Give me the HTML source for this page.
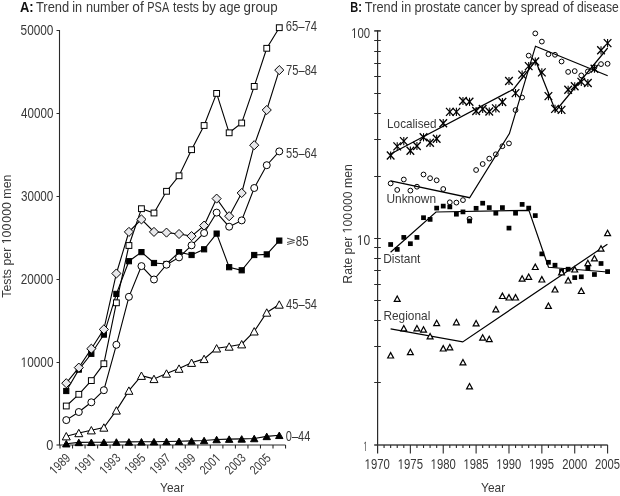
<!DOCTYPE html><html><head><meta charset="utf-8"><style>html,body{margin:0;padding:0;background:#fff;}svg{display:block;will-change:transform;}text{font-family:"Liberation Sans",sans-serif;fill:#383838;}.one{fill-opacity:0;}</style></head><body>
<svg width="620" height="496" viewBox="0 0 620 496">
<rect width="620" height="496" fill="#fff"/>
<text x="19.97" y="12" font-size="14.1" textLength="13.66" lengthAdjust="spacingAndGlyphs"><tspan font-weight="bold" style="fill:#111">A:</tspan></text>
<text x="35.94" y="12" font-size="14.1" textLength="33.24" lengthAdjust="spacingAndGlyphs">Trend</text>
<text x="72.26" y="12" font-size="14.1" textLength="9.89" lengthAdjust="spacingAndGlyphs">in</text>
<text x="85.93" y="12" font-size="14.1" textLength="43.19" lengthAdjust="spacingAndGlyphs">number</text>
<text x="132.29" y="12" font-size="14.1" textLength="11.47" lengthAdjust="spacingAndGlyphs">of</text>
<text x="147.33" y="12" font-size="14.1" textLength="21.86" lengthAdjust="spacingAndGlyphs">PSA</text>
<text x="173.12" y="12" font-size="14.1" textLength="25.77" lengthAdjust="spacingAndGlyphs">tests</text>
<text x="201.89" y="12" font-size="14.1" textLength="14.05" lengthAdjust="spacingAndGlyphs">by</text>
<text x="219.37" y="12" font-size="14.1" textLength="21.05" lengthAdjust="spacingAndGlyphs">age</text>
<text x="243.59" y="12" font-size="14.1" textLength="34.1" lengthAdjust="spacingAndGlyphs">group</text>
<text x="350.22" y="12" font-size="14.1" textLength="11.64" lengthAdjust="spacingAndGlyphs"><tspan font-weight="bold" style="fill:#111">B:</tspan></text>
<text x="364.84" y="12" font-size="14.1" textLength="32.94" lengthAdjust="spacingAndGlyphs">Trend</text>
<text x="401.35" y="12" font-size="14.1" textLength="9.79" lengthAdjust="spacingAndGlyphs">in</text>
<text x="414.47" y="12" font-size="14.1" textLength="46.26" lengthAdjust="spacingAndGlyphs">prostate</text>
<text x="463.69" y="12" font-size="14.1" textLength="37.07" lengthAdjust="spacingAndGlyphs">cancer</text>
<text x="503.9" y="12" font-size="14.1" textLength="13.82" lengthAdjust="spacingAndGlyphs">by</text>
<text x="520.87" y="12" font-size="14.1" textLength="38.08" lengthAdjust="spacingAndGlyphs">spread</text>
<text x="562.64" y="12" font-size="14.1" textLength="11.05" lengthAdjust="spacingAndGlyphs">of</text>
<text x="576.95" y="12" font-size="14.1" textLength="41.78" lengthAdjust="spacingAndGlyphs">disease</text>
<text x="20.68" y="367" font-size="13.9" textLength="32.75" lengthAdjust="spacingAndGlyphs"><tspan class="one">1</tspan>0000</text>
<text x="20.68" y="284" font-size="13.9" textLength="32.66" lengthAdjust="spacingAndGlyphs">20000</text>
<text x="20.93" y="201" font-size="13.9" textLength="32.4" lengthAdjust="spacingAndGlyphs">30000</text>
<text x="21.1" y="118" font-size="13.9" textLength="32.29" lengthAdjust="spacingAndGlyphs">40000</text>
<text x="20.58" y="35" font-size="13.9" textLength="32.87" lengthAdjust="spacingAndGlyphs">50000</text>
<text x="46.35" y="450" font-size="13.9" textLength="7.06" lengthAdjust="spacingAndGlyphs">0</text>
<text x="285.78" y="31" font-size="13.9" textLength="31.31" lengthAdjust="spacingAndGlyphs">65–74</text>
<text x="286.12" y="75" font-size="13.9" textLength="30.93" lengthAdjust="spacingAndGlyphs">75–84</text>
<text x="286.02" y="158" font-size="13.9" textLength="30.95" lengthAdjust="spacingAndGlyphs">55–64</text>
<text x="295.81" y="246" font-size="13.9" textLength="12.83" lengthAdjust="spacingAndGlyphs">85</text>
<text x="286.12" y="309" font-size="13.9" textLength="30.87" lengthAdjust="spacingAndGlyphs">45–54</text>
<text x="285.83" y="441" font-size="13.9" textLength="24.45" lengthAdjust="spacingAndGlyphs">0–44</text>
<text x="160.06" y="492" font-size="13.4" textLength="24.08" lengthAdjust="spacingAndGlyphs">Year</text>
<text x="481.1" y="492" font-size="13.4" textLength="24.12" lengthAdjust="spacingAndGlyphs">Year</text>
<text transform="translate(10.9,297.76) rotate(-90)" font-size="13" textLength="123.12" lengthAdjust="spacingAndGlyphs">Tests per <tspan class="one">1</tspan>00 000 men</text>
<text transform="translate(351.6,283.68) rotate(-90)" font-size="12.8" textLength="119.5" lengthAdjust="spacingAndGlyphs">Rate per <tspan class="one">1</tspan>00 000 men</text>
<text x="351.14" y="38" font-size="14" textLength="19.01" lengthAdjust="spacingAndGlyphs"><tspan class="one">1</tspan>00</text>
<text x="356.83" y="245" font-size="14" textLength="13.48" lengthAdjust="spacingAndGlyphs"><tspan class="one">1</tspan>0</text>
<text x="363.53" y="451" font-size="13.6" textLength="3.76" lengthAdjust="spacingAndGlyphs"><tspan class="one">1</tspan></text>
<text x="364.61" y="469" font-size="14.2" textLength="25.16" lengthAdjust="spacingAndGlyphs"><tspan class="one">1</tspan>970</text>
<text x="397.74" y="469" font-size="14.2" textLength="25.2" lengthAdjust="spacingAndGlyphs"><tspan class="one">1</tspan>975</text>
<text x="430.62" y="469" font-size="14.2" textLength="25.07" lengthAdjust="spacingAndGlyphs"><tspan class="one">1</tspan>980</text>
<text x="463.48" y="469" font-size="14.2" textLength="25.06" lengthAdjust="spacingAndGlyphs"><tspan class="one">1</tspan>985</text>
<text x="496.34" y="469" font-size="14.2" textLength="24.95" lengthAdjust="spacingAndGlyphs"><tspan class="one">1</tspan>990</text>
<text x="529.09" y="469" font-size="14.2" textLength="25.03" lengthAdjust="spacingAndGlyphs"><tspan class="one">1</tspan>995</text>
<text x="562.18" y="469" font-size="14.2" textLength="24.96" lengthAdjust="spacingAndGlyphs">2000</text>
<text x="595.08" y="469" font-size="14.2" textLength="24.94" lengthAdjust="spacingAndGlyphs">2005</text>
<text x="387.11" y="128" font-size="13.5" textLength="49.5" lengthAdjust="spacingAndGlyphs">Localised</text>
<text x="386.42" y="203" font-size="13.5" textLength="49.68" lengthAdjust="spacingAndGlyphs">Unknown</text>
<text x="383.14" y="263" font-size="13.5" textLength="37.24" lengthAdjust="spacingAndGlyphs">Distant</text>
<text x="383.47" y="320" font-size="13.5" textLength="46.8" lengthAdjust="spacingAndGlyphs">Regional</text>
<path d="M287.1 238.2 L294.6 240.4 L287.1 242.5 M294.6 242.4 L287.1 244.5" stroke="#333" stroke-width="0.9" fill="none"/>
<g stroke="#2a2a2a" stroke-width="1.1" fill="none">
<path d="M59.5 30 V445 H285.5"/>
<path d="M56.5 362.5 H59.5" stroke-width="1"/>
<path d="M56.5 279.5 H59.5" stroke-width="1"/>
<path d="M56.5 196.5 H59.5" stroke-width="1"/>
<path d="M56.5 113.5 H59.5" stroke-width="1"/>
<path d="M56.5 30.5 H59.5" stroke-width="1"/>
<path d="M56.5 445 H59.5"/>
<path d="M60 445 V448.5"/>
<path d="M72.53 445 V448.5"/>
<path d="M85.06 445 V448.5"/>
<path d="M97.59 445 V448.5"/>
<path d="M110.12 445 V448.5"/>
<path d="M122.65 445 V448.5"/>
<path d="M135.18 445 V448.5"/>
<path d="M147.71 445 V448.5"/>
<path d="M160.24 445 V448.5"/>
<path d="M172.77 445 V448.5"/>
<path d="M185.3 445 V448.5"/>
<path d="M197.83 445 V448.5"/>
<path d="M210.36 445 V448.5"/>
<path d="M222.89 445 V448.5"/>
<path d="M235.42 445 V448.5"/>
<path d="M247.95 445 V448.5"/>
<path d="M260.48 445 V448.5"/>
<path d="M273.01 445 V448.5"/>
<path d="M285.54 445 V448.5"/>
</g>
<text transform="translate(71.22,458.75) rotate(-45)" font-size="13" text-anchor="end" textLength="23.5" lengthAdjust="spacingAndGlyphs"><tspan class="one">1</tspan>989</text>
<text transform="translate(96.28,458.75) rotate(-45)" font-size="13" text-anchor="end" textLength="23.5" lengthAdjust="spacingAndGlyphs"><tspan class="one">1</tspan>99<tspan class="one">1</tspan></text>
<text transform="translate(121.34,458.75) rotate(-45)" font-size="13" text-anchor="end" textLength="23.5" lengthAdjust="spacingAndGlyphs"><tspan class="one">1</tspan>993</text>
<text transform="translate(146.4,458.75) rotate(-45)" font-size="13" text-anchor="end" textLength="23.5" lengthAdjust="spacingAndGlyphs"><tspan class="one">1</tspan>995</text>
<text transform="translate(171.46,458.75) rotate(-45)" font-size="13" text-anchor="end" textLength="23.5" lengthAdjust="spacingAndGlyphs"><tspan class="one">1</tspan>997</text>
<text transform="translate(196.52,458.75) rotate(-45)" font-size="13" text-anchor="end" textLength="23.5" lengthAdjust="spacingAndGlyphs"><tspan class="one">1</tspan>999</text>
<text transform="translate(221.58,458.75) rotate(-45)" font-size="13" text-anchor="end" textLength="23.5" lengthAdjust="spacingAndGlyphs">200<tspan class="one">1</tspan></text>
<text transform="translate(246.64,458.75) rotate(-45)" font-size="13" text-anchor="end" textLength="23.5" lengthAdjust="spacingAndGlyphs">2003</text>
<text transform="translate(271.7,458.75) rotate(-45)" font-size="13" text-anchor="end" textLength="23.5" lengthAdjust="spacingAndGlyphs">2005</text>
<g stroke="#000" stroke-width="1.1" fill="none">
<path d="M66.27 443.7 L78.8 442.4 L91.33 442.3 L103.86 442.2 L116.39 442 L128.92 441.9 L141.45 441.8 L153.98 441.7 L166.51 441.5 L179.04 441.3 L191.57 440.9 L204.1 440.5 L216.63 439.5 L229.16 439.1 L241.69 438.9 L254.22 438.5 L266.75 436.4 L279.28 435.3"/>
<path d="M66.27 436.2 L78.8 433 L91.33 430.2 L103.86 427.5 L116.39 410.4 L128.92 390.6 L141.45 375.7 L153.98 378.9 L166.51 373.5 L179.04 368.6 L191.57 362.7 L204.1 358.9 L216.63 348.3 L229.16 346.5 L241.69 344.2 L254.22 331.3 L266.75 312.5 L279.28 304.5"/>
<path d="M66.27 391 L78.8 369.6 L91.33 353.8 L103.86 334.6 L116.39 293.9 L128.92 261.2 L141.45 252.1 L153.98 263 L166.51 264 L179.04 252.2 L191.57 255 L204.1 249.3 L216.63 233.6 L229.16 267.2 L241.69 270.3 L254.22 255 L266.75 254.4 L279.28 240.6"/>
<path d="M66.27 383.2 L78.8 367.6 L91.33 348.7 L103.86 329.4 L116.39 273.5 L128.92 231.9 L141.45 219.4 L153.98 231.9 L166.51 232.6 L179.04 234 L191.57 236.1 L204.1 225.6 L216.63 198.6 L229.16 216.2 L241.69 193 L254.22 145.2 L266.75 110 L279.28 70.1"/>
<path d="M66.27 420.1 L78.8 412 L91.33 402.3 L103.86 390.2 L116.39 344.8 L128.92 296.8 L141.45 266.1 L153.98 279.5 L166.51 264.7 L179.04 257.4 L191.57 245.3 L204.1 233 L216.63 212.6 L229.16 226.7 L241.69 220.4 L254.22 188 L266.75 165.2 L279.28 151.4"/>
<path d="M66.27 406 L78.8 394.3 L91.33 380.6 L103.86 363.7 L116.39 302.8 L128.92 245.5 L141.45 208.7 L153.98 213 L166.51 191.3 L179.04 175.8 L191.57 149.7 L204.1 125.5 L216.63 93.4 L229.16 132.8 L241.69 123 L254.22 86.4 L266.75 48.3 L279.28 27.7"/>
</g>
<g stroke="#000" stroke-width="1">
<path d="M66.27 440.45 L69.97 446.95 L62.57 446.95 Z" fill="#000"/>
<path d="M78.8 439.15 L82.5 445.65 L75.1 445.65 Z" fill="#000"/>
<path d="M91.33 439.05 L95.03 445.55 L87.63 445.55 Z" fill="#000"/>
<path d="M103.86 438.95 L107.56 445.45 L100.16 445.45 Z" fill="#000"/>
<path d="M116.39 438.75 L120.09 445.25 L112.69 445.25 Z" fill="#000"/>
<path d="M128.92 438.65 L132.62 445.15 L125.22 445.15 Z" fill="#000"/>
<path d="M141.45 438.55 L145.15 445.05 L137.75 445.05 Z" fill="#000"/>
<path d="M153.98 438.45 L157.68 444.95 L150.28 444.95 Z" fill="#000"/>
<path d="M166.51 438.25 L170.21 444.75 L162.81 444.75 Z" fill="#000"/>
<path d="M179.04 438.05 L182.74 444.55 L175.34 444.55 Z" fill="#000"/>
<path d="M191.57 437.65 L195.27 444.15 L187.87 444.15 Z" fill="#000"/>
<path d="M204.1 437.25 L207.8 443.75 L200.4 443.75 Z" fill="#000"/>
<path d="M216.63 436.25 L220.33 442.75 L212.93 442.75 Z" fill="#000"/>
<path d="M229.16 435.85 L232.86 442.35 L225.46 442.35 Z" fill="#000"/>
<path d="M241.69 435.65 L245.39 442.15 L237.99 442.15 Z" fill="#000"/>
<path d="M254.22 435.25 L257.92 441.75 L250.52 441.75 Z" fill="#000"/>
<path d="M266.75 433.15 L270.45 439.65 L263.05 439.65 Z" fill="#000"/>
<path d="M279.28 432.05 L282.98 438.55 L275.58 438.55 Z" fill="#000"/>
<path d="M66.27 432.5 L70.27 439.9 L62.27 439.9 Z" fill="#fff"/>
<path d="M78.8 429.3 L82.8 436.7 L74.8 436.7 Z" fill="#fff"/>
<path d="M91.33 426.5 L95.33 433.9 L87.33 433.9 Z" fill="#fff"/>
<path d="M103.86 423.8 L107.86 431.2 L99.86 431.2 Z" fill="#fff"/>
<path d="M116.39 406.7 L120.39 414.1 L112.39 414.1 Z" fill="#fff"/>
<path d="M128.92 386.9 L132.92 394.3 L124.92 394.3 Z" fill="#fff"/>
<path d="M141.45 372 L145.45 379.4 L137.45 379.4 Z" fill="#fff"/>
<path d="M153.98 375.2 L157.98 382.6 L149.98 382.6 Z" fill="#fff"/>
<path d="M166.51 369.8 L170.51 377.2 L162.51 377.2 Z" fill="#fff"/>
<path d="M179.04 364.9 L183.04 372.3 L175.04 372.3 Z" fill="#fff"/>
<path d="M191.57 359 L195.57 366.4 L187.57 366.4 Z" fill="#fff"/>
<path d="M204.1 355.2 L208.1 362.6 L200.1 362.6 Z" fill="#fff"/>
<path d="M216.63 344.6 L220.63 352 L212.63 352 Z" fill="#fff"/>
<path d="M229.16 342.8 L233.16 350.2 L225.16 350.2 Z" fill="#fff"/>
<path d="M241.69 340.5 L245.69 347.9 L237.69 347.9 Z" fill="#fff"/>
<path d="M254.22 327.6 L258.22 335 L250.22 335 Z" fill="#fff"/>
<path d="M266.75 308.8 L270.75 316.2 L262.75 316.2 Z" fill="#fff"/>
<path d="M279.28 300.8 L283.28 308.2 L275.28 308.2 Z" fill="#fff"/>
<rect x="63.67" y="388.4" width="5.2" height="5.2" fill="#000"/>
<rect x="76.2" y="367" width="5.2" height="5.2" fill="#000"/>
<rect x="88.73" y="351.2" width="5.2" height="5.2" fill="#000"/>
<rect x="101.26" y="332" width="5.2" height="5.2" fill="#000"/>
<rect x="113.79" y="291.3" width="5.2" height="5.2" fill="#000"/>
<rect x="126.32" y="258.6" width="5.2" height="5.2" fill="#000"/>
<rect x="138.85" y="249.5" width="5.2" height="5.2" fill="#000"/>
<rect x="151.38" y="260.4" width="5.2" height="5.2" fill="#000"/>
<rect x="163.91" y="261.4" width="5.2" height="5.2" fill="#000"/>
<rect x="176.44" y="249.6" width="5.2" height="5.2" fill="#000"/>
<rect x="188.97" y="252.4" width="5.2" height="5.2" fill="#000"/>
<rect x="201.5" y="246.7" width="5.2" height="5.2" fill="#000"/>
<rect x="214.03" y="231" width="5.2" height="5.2" fill="#000"/>
<rect x="226.56" y="264.6" width="5.2" height="5.2" fill="#000"/>
<rect x="239.09" y="267.7" width="5.2" height="5.2" fill="#000"/>
<rect x="251.62" y="252.4" width="5.2" height="5.2" fill="#000"/>
<rect x="264.15" y="251.8" width="5.2" height="5.2" fill="#000"/>
<rect x="276.68" y="238" width="5.2" height="5.2" fill="#000"/>
<path d="M66.27 378.65 L70.82 383.2 L66.27 387.75 L61.72 383.2 Z" fill="#e8e8eb"/>
<path d="M78.8 363.05 L83.35 367.6 L78.8 372.15 L74.25 367.6 Z" fill="#e8e8eb"/>
<path d="M91.33 344.15 L95.88 348.7 L91.33 353.25 L86.78 348.7 Z" fill="#e8e8eb"/>
<path d="M103.86 324.85 L108.41 329.4 L103.86 333.95 L99.31 329.4 Z" fill="#e8e8eb"/>
<path d="M116.39 268.95 L120.94 273.5 L116.39 278.05 L111.84 273.5 Z" fill="#e8e8eb"/>
<path d="M128.92 227.35 L133.47 231.9 L128.92 236.45 L124.37 231.9 Z" fill="#e8e8eb"/>
<path d="M141.45 214.85 L146 219.4 L141.45 223.95 L136.9 219.4 Z" fill="#e8e8eb"/>
<path d="M153.98 227.35 L158.53 231.9 L153.98 236.45 L149.43 231.9 Z" fill="#e8e8eb"/>
<path d="M166.51 228.05 L171.06 232.6 L166.51 237.15 L161.96 232.6 Z" fill="#e8e8eb"/>
<path d="M179.04 229.45 L183.59 234 L179.04 238.55 L174.49 234 Z" fill="#e8e8eb"/>
<path d="M191.57 231.55 L196.12 236.1 L191.57 240.65 L187.02 236.1 Z" fill="#e8e8eb"/>
<path d="M204.1 221.05 L208.65 225.6 L204.1 230.15 L199.55 225.6 Z" fill="#e8e8eb"/>
<path d="M216.63 194.05 L221.18 198.6 L216.63 203.15 L212.08 198.6 Z" fill="#e8e8eb"/>
<path d="M229.16 211.65 L233.71 216.2 L229.16 220.75 L224.61 216.2 Z" fill="#e8e8eb"/>
<path d="M241.69 188.45 L246.24 193 L241.69 197.55 L237.14 193 Z" fill="#e8e8eb"/>
<path d="M254.22 140.65 L258.77 145.2 L254.22 149.75 L249.67 145.2 Z" fill="#e8e8eb"/>
<path d="M266.75 105.45 L271.3 110 L266.75 114.55 L262.2 110 Z" fill="#e8e8eb"/>
<path d="M279.28 65.55 L283.83 70.1 L279.28 74.65 L274.73 70.1 Z" fill="#e8e8eb"/>
<circle cx="66.27" cy="420.1" r="3.5" fill="#fff"/>
<circle cx="78.8" cy="412" r="3.5" fill="#fff"/>
<circle cx="91.33" cy="402.3" r="3.5" fill="#fff"/>
<circle cx="103.86" cy="390.2" r="3.5" fill="#fff"/>
<circle cx="116.39" cy="344.8" r="3.5" fill="#fff"/>
<circle cx="128.92" cy="296.8" r="3.5" fill="#fff"/>
<circle cx="141.45" cy="266.1" r="3.5" fill="#fff"/>
<circle cx="153.98" cy="279.5" r="3.5" fill="#fff"/>
<circle cx="166.51" cy="264.7" r="3.5" fill="#fff"/>
<circle cx="179.04" cy="257.4" r="3.5" fill="#fff"/>
<circle cx="191.57" cy="245.3" r="3.5" fill="#fff"/>
<circle cx="204.1" cy="233" r="3.5" fill="#fff"/>
<circle cx="216.63" cy="212.6" r="3.5" fill="#fff"/>
<circle cx="229.16" cy="226.7" r="3.5" fill="#fff"/>
<circle cx="241.69" cy="220.4" r="3.5" fill="#fff"/>
<circle cx="254.22" cy="188" r="3.5" fill="#fff"/>
<circle cx="266.75" cy="165.2" r="3.5" fill="#fff"/>
<circle cx="279.28" cy="151.4" r="3.5" fill="#fff"/>
<rect x="63.37" y="403.1" width="5.8" height="5.8" fill="#fff"/>
<rect x="75.9" y="391.4" width="5.8" height="5.8" fill="#fff"/>
<rect x="88.43" y="377.7" width="5.8" height="5.8" fill="#fff"/>
<rect x="100.96" y="360.8" width="5.8" height="5.8" fill="#fff"/>
<rect x="113.49" y="299.9" width="5.8" height="5.8" fill="#fff"/>
<rect x="126.02" y="242.6" width="5.8" height="5.8" fill="#fff"/>
<rect x="138.55" y="205.8" width="5.8" height="5.8" fill="#fff"/>
<rect x="151.08" y="210.1" width="5.8" height="5.8" fill="#fff"/>
<rect x="163.61" y="188.4" width="5.8" height="5.8" fill="#fff"/>
<rect x="176.14" y="172.9" width="5.8" height="5.8" fill="#fff"/>
<rect x="188.67" y="146.8" width="5.8" height="5.8" fill="#fff"/>
<rect x="201.2" y="122.6" width="5.8" height="5.8" fill="#fff"/>
<rect x="213.73" y="90.5" width="5.8" height="5.8" fill="#fff"/>
<rect x="226.26" y="129.9" width="5.8" height="5.8" fill="#fff"/>
<rect x="238.79" y="120.1" width="5.8" height="5.8" fill="#fff"/>
<rect x="251.32" y="83.5" width="5.8" height="5.8" fill="#fff"/>
<rect x="263.85" y="45.4" width="5.8" height="5.8" fill="#fff"/>
<rect x="276.38" y="24.8" width="5.8" height="5.8" fill="#fff"/>
</g>
<g stroke="#2a2a2a" stroke-width="1.1" fill="none">
<path d="M377.6 30.2 V453.5" stroke-width="1.2"/>
<path d="M377.6 445.1 H607.7" stroke-width="1.5" stroke="#444"/>
<path d="M374.2 382.5 H380.8" stroke-width="1"/>
<path d="M374.2 346.5 H380.8" stroke-width="1"/>
<path d="M374.2 320.5 H380.8" stroke-width="1"/>
<path d="M374.2 300.5 H380.8" stroke-width="1"/>
<path d="M374.2 284.5 H380.8" stroke-width="1"/>
<path d="M374.2 270.5 H380.8" stroke-width="1"/>
<path d="M374.2 258.5 H380.8" stroke-width="1"/>
<path d="M374.2 247.5 H380.8" stroke-width="1"/>
<path d="M374.2 238.5 H380.8" stroke-width="1"/>
<path d="M374.2 176.5 H380.8" stroke-width="1"/>
<path d="M374.2 139.5 H380.8" stroke-width="1"/>
<path d="M374.2 113.5 H380.8" stroke-width="1"/>
<path d="M374.2 93.5 H380.8" stroke-width="1"/>
<path d="M374.2 76.5 H380.8" stroke-width="1"/>
<path d="M374.2 63.5 H380.8" stroke-width="1"/>
<path d="M374.2 51.5 H380.8" stroke-width="1"/>
<path d="M374.2 40.5 H380.8" stroke-width="1"/>
<path d="M374.2 30.9 H380.8" stroke-width="1.5"/>
<path d="M374.2 445 H377.6" stroke-width="1.4"/>
<path d="M384.07 445 V448"/>
<path d="M390.65 445 V448"/>
<path d="M397.22 445 V448"/>
<path d="M403.8 445 V448"/>
<path d="M410.37 445 V453.5"/>
<path d="M416.94 445 V448"/>
<path d="M423.52 445 V448"/>
<path d="M430.09 445 V448"/>
<path d="M436.67 445 V448"/>
<path d="M443.24 445 V453.5"/>
<path d="M449.81 445 V448"/>
<path d="M456.39 445 V448"/>
<path d="M462.96 445 V448"/>
<path d="M469.54 445 V448"/>
<path d="M476.11 445 V453.5"/>
<path d="M482.68 445 V448"/>
<path d="M489.26 445 V448"/>
<path d="M495.83 445 V448"/>
<path d="M502.41 445 V448"/>
<path d="M508.98 445 V453.5"/>
<path d="M515.55 445 V448"/>
<path d="M522.13 445 V448"/>
<path d="M528.7 445 V448"/>
<path d="M535.28 445 V448"/>
<path d="M541.85 445 V453.5"/>
<path d="M548.42 445 V448"/>
<path d="M555 445 V448"/>
<path d="M561.57 445 V448"/>
<path d="M568.15 445 V448"/>
<path d="M574.72 445 V453.5"/>
<path d="M581.29 445 V448"/>
<path d="M587.87 445 V448"/>
<path d="M594.44 445 V448"/>
<path d="M601.02 445 V448"/>
<path d="M607.59 445 V453.5"/>
</g>
<g stroke="#000" stroke-width="1.2" fill="none">
<path d="M390.6 154 L513.5 89.2 L535.6 60.8 L555.6 111 L607.7 48"/>
<path d="M390.6 180.8 L469.6 197.7 L509.4 133.6 L535.5 46.2 L607.7 75.8"/>
<path d="M390.6 252.3 L436 212 L528.9 210.3 L548.5 267.3 L607.5 272"/>
<path d="M390.6 328.9 L462.7 341.9 L607.4 244.2"/>
</g>
<g stroke="#000" stroke-width="1" fill="none">
<path d="M386.85 151.5 L394.45 159.5 M394.45 151.5 L386.85 159.5" stroke-width="1.3"/><path d="M390.65 151.4 V159.6" stroke-width="1.1"/>
<path d="M393.42 142.4 L401.02 150.4 M401.02 142.4 L393.42 150.4" stroke-width="1.3"/><path d="M397.22 142.3 V150.5" stroke-width="1.1"/>
<path d="M400 137.1 L407.6 145.1 M407.6 137.1 L400 145.1" stroke-width="1.3"/><path d="M403.8 137 V145.2" stroke-width="1.1"/>
<path d="M406.57 146.7 L414.17 154.7 M414.17 146.7 L406.57 154.7" stroke-width="1.3"/><path d="M410.37 146.6 V154.8" stroke-width="1.1"/>
<path d="M413.14 142 L420.74 150 M420.74 142 L413.14 150" stroke-width="1.3"/><path d="M416.94 141.9 V150.1" stroke-width="1.1"/>
<path d="M419.72 133.3 L427.32 141.3 M427.32 133.3 L419.72 141.3" stroke-width="1.3"/><path d="M423.52 133.2 V141.4" stroke-width="1.1"/>
<path d="M426.29 138.8 L433.89 146.8 M433.89 138.8 L426.29 146.8" stroke-width="1.3"/><path d="M430.09 138.7 V146.9" stroke-width="1.1"/>
<path d="M432.87 134.8 L440.47 142.8 M440.47 134.8 L432.87 142.8" stroke-width="1.3"/><path d="M436.67 134.7 V142.9" stroke-width="1.1"/>
<path d="M439.44 119.2 L447.04 127.2 M447.04 119.2 L439.44 127.2" stroke-width="1.3"/><path d="M443.24 119.1 V127.3" stroke-width="1.1"/>
<path d="M446.01 107.9 L453.61 115.9 M453.61 107.9 L446.01 115.9" stroke-width="1.3"/><path d="M449.81 107.8 V116" stroke-width="1.1"/>
<path d="M452.59 107.9 L460.19 115.9 M460.19 107.9 L452.59 115.9" stroke-width="1.3"/><path d="M456.39 107.8 V116" stroke-width="1.1"/>
<path d="M459.16 97 L466.76 105 M466.76 97 L459.16 105" stroke-width="1.3"/><path d="M462.96 96.9 V105.1" stroke-width="1.1"/>
<path d="M465.74 97.8 L473.34 105.8 M473.34 97.8 L465.74 105.8" stroke-width="1.3"/><path d="M469.54 97.7 V105.9" stroke-width="1.1"/>
<path d="M472.31 107 L479.91 115 M479.91 107 L472.31 115" stroke-width="1.3"/><path d="M476.11 106.9 V115.1" stroke-width="1.1"/>
<path d="M478.88 105 L486.48 113 M486.48 105 L478.88 113" stroke-width="1.3"/><path d="M482.68 104.9 V113.1" stroke-width="1.1"/>
<path d="M485.46 107.5 L493.06 115.5 M493.06 107.5 L485.46 115.5" stroke-width="1.3"/><path d="M489.26 107.4 V115.6" stroke-width="1.1"/>
<path d="M492.03 104.4 L499.63 112.4 M499.63 104.4 L492.03 112.4" stroke-width="1.3"/><path d="M495.83 104.3 V112.5" stroke-width="1.1"/>
<path d="M498.61 98 L506.21 106 M506.21 98 L498.61 106" stroke-width="1.3"/><path d="M502.41 97.9 V106.1" stroke-width="1.1"/>
<path d="M505.18 77 L512.78 85 M512.78 77 L505.18 85" stroke-width="1.3"/><path d="M508.98 76.9 V85.1" stroke-width="1.1"/>
<path d="M511.75 89.1 L519.35 97.1 M519.35 89.1 L511.75 97.1" stroke-width="1.3"/><path d="M515.55 89 V97.2" stroke-width="1.1"/>
<path d="M518.33 70.6 L525.93 78.6 M525.93 70.6 L518.33 78.6" stroke-width="1.3"/><path d="M522.13 70.5 V78.7" stroke-width="1.1"/>
<path d="M524.9 62.1 L532.5 70.1 M532.5 62.1 L524.9 70.1" stroke-width="1.3"/><path d="M528.7 62 V70.2" stroke-width="1.1"/>
<path d="M531.48 57.5 L539.08 65.5 M539.08 57.5 L531.48 65.5" stroke-width="1.3"/><path d="M535.28 57.4 V65.6" stroke-width="1.1"/>
<path d="M538.05 68.4 L545.65 76.4 M545.65 68.4 L538.05 76.4" stroke-width="1.3"/><path d="M541.85 68.3 V76.5" stroke-width="1.1"/>
<path d="M544.62 92.1 L552.22 100.1 M552.22 92.1 L544.62 100.1" stroke-width="1.3"/><path d="M548.42 92 V100.2" stroke-width="1.1"/>
<path d="M551.2 104.9 L558.8 112.9 M558.8 104.9 L551.2 112.9" stroke-width="1.3"/><path d="M555 104.8 V113" stroke-width="1.1"/>
<path d="M557.77 105.9 L565.37 113.9 M565.37 105.9 L557.77 113.9" stroke-width="1.3"/><path d="M561.57 105.8 V114" stroke-width="1.1"/>
<path d="M564.35 85.8 L571.95 93.8 M571.95 85.8 L564.35 93.8" stroke-width="1.3"/><path d="M568.15 85.7 V93.9" stroke-width="1.1"/>
<path d="M570.92 82.3 L578.52 90.3 M578.52 82.3 L570.92 90.3" stroke-width="1.3"/><path d="M574.72 82.2 V90.4" stroke-width="1.1"/>
<path d="M577.49 77.9 L585.09 85.9 M585.09 77.9 L577.49 85.9" stroke-width="1.3"/><path d="M581.29 77.8 V86" stroke-width="1.1"/>
<path d="M584.07 79 L591.67 87 M591.67 79 L584.07 87" stroke-width="1.3"/><path d="M587.87 78.9 V87.1" stroke-width="1.1"/>
<path d="M590.64 64.7 L598.24 72.7 M598.24 64.7 L590.64 72.7" stroke-width="1.3"/><path d="M594.44 64.6 V72.8" stroke-width="1.1"/>
<path d="M597.22 46.3 L604.82 54.3 M604.82 46.3 L597.22 54.3" stroke-width="1.3"/><path d="M601.02 46.2 V54.4" stroke-width="1.1"/>
<path d="M603.79 39.1 L611.39 47.1 M611.39 39.1 L603.79 47.1" stroke-width="1.3"/><path d="M607.59 39 V47.2" stroke-width="1.1"/>
<circle cx="390.65" cy="183.4" r="2.4"/>
<circle cx="397.22" cy="189.9" r="2.4"/>
<circle cx="403.8" cy="179.5" r="2.4"/>
<circle cx="410.37" cy="190.6" r="2.4"/>
<circle cx="416.94" cy="186.7" r="2.4"/>
<circle cx="423.52" cy="174.5" r="2.4"/>
<circle cx="430.09" cy="178.2" r="2.4"/>
<circle cx="436.67" cy="180.3" r="2.4"/>
<circle cx="443.24" cy="189" r="2.4"/>
<circle cx="449.81" cy="202.3" r="2.4"/>
<circle cx="456.39" cy="202.6" r="2.4"/>
<circle cx="462.96" cy="200.1" r="2.4"/>
<circle cx="469.54" cy="218.9" r="2.4"/>
<circle cx="476.11" cy="170" r="2.4"/>
<circle cx="482.68" cy="164" r="2.4"/>
<circle cx="489.26" cy="158.6" r="2.4"/>
<circle cx="495.83" cy="154.3" r="2.4"/>
<circle cx="502.41" cy="146.2" r="2.4"/>
<circle cx="508.98" cy="143.4" r="2.4"/>
<circle cx="515.55" cy="110.1" r="2.4"/>
<circle cx="522.13" cy="97.5" r="2.4"/>
<circle cx="528.7" cy="55.6" r="2.4"/>
<circle cx="535.28" cy="33.4" r="2.4"/>
<circle cx="541.85" cy="41.6" r="2.4"/>
<circle cx="548.42" cy="54.2" r="2.4"/>
<circle cx="555" cy="54.8" r="2.4"/>
<circle cx="561.57" cy="61.5" r="2.4"/>
<circle cx="568.15" cy="71.9" r="2.4"/>
<circle cx="574.72" cy="71.1" r="2.4"/>
<circle cx="581.29" cy="75.4" r="2.4"/>
<circle cx="587.87" cy="71.4" r="2.4"/>
<circle cx="594.44" cy="67.2" r="2.4"/>
<circle cx="601.02" cy="64.1" r="2.4"/>
<circle cx="607.59" cy="63.8" r="2.4"/>
<rect x="388.25" y="242.15" width="4.8" height="4.7" fill="#000" stroke="none"/>
<rect x="394.82" y="247.05" width="4.8" height="4.7" fill="#000" stroke="none"/>
<rect x="401.4" y="235.05" width="4.8" height="4.7" fill="#000" stroke="none"/>
<rect x="407.97" y="241.35" width="4.8" height="4.7" fill="#000" stroke="none"/>
<rect x="414.54" y="235.05" width="4.8" height="4.7" fill="#000" stroke="none"/>
<rect x="421.12" y="215.35" width="4.8" height="4.7" fill="#000" stroke="none"/>
<rect x="427.69" y="217.05" width="4.8" height="4.7" fill="#000" stroke="none"/>
<rect x="434.27" y="205.75" width="4.8" height="4.7" fill="#000" stroke="none"/>
<rect x="440.84" y="203.75" width="4.8" height="4.7" fill="#000" stroke="none"/>
<rect x="447.41" y="204.55" width="4.8" height="4.7" fill="#000" stroke="none"/>
<rect x="453.99" y="211.85" width="4.8" height="4.7" fill="#000" stroke="none"/>
<rect x="460.56" y="209.55" width="4.8" height="4.7" fill="#000" stroke="none"/>
<rect x="467.14" y="218.65" width="4.8" height="4.7" fill="#000" stroke="none"/>
<rect x="473.71" y="205.95" width="4.8" height="4.7" fill="#000" stroke="none"/>
<rect x="480.28" y="200.85" width="4.8" height="4.7" fill="#000" stroke="none"/>
<rect x="486.86" y="205.25" width="4.8" height="4.7" fill="#000" stroke="none"/>
<rect x="493.43" y="210.85" width="4.8" height="4.7" fill="#000" stroke="none"/>
<rect x="500.01" y="205.25" width="4.8" height="4.7" fill="#000" stroke="none"/>
<rect x="506.58" y="225.75" width="4.8" height="4.7" fill="#000" stroke="none"/>
<rect x="513.15" y="210.85" width="4.8" height="4.7" fill="#000" stroke="none"/>
<rect x="519.73" y="202.05" width="4.8" height="4.7" fill="#000" stroke="none"/>
<rect x="526.3" y="205.75" width="4.8" height="4.7" fill="#000" stroke="none"/>
<rect x="532.88" y="213.25" width="4.8" height="4.7" fill="#000" stroke="none"/>
<rect x="539.45" y="251.55" width="4.8" height="4.7" fill="#000" stroke="none"/>
<rect x="546.02" y="259.95" width="4.8" height="4.7" fill="#000" stroke="none"/>
<rect x="552.6" y="262.85" width="4.8" height="4.7" fill="#000" stroke="none"/>
<rect x="559.17" y="268.95" width="4.8" height="4.7" fill="#000" stroke="none"/>
<rect x="565.75" y="266.85" width="4.8" height="4.7" fill="#000" stroke="none"/>
<rect x="572.32" y="275.25" width="4.8" height="4.7" fill="#000" stroke="none"/>
<rect x="578.89" y="274.45" width="4.8" height="4.7" fill="#000" stroke="none"/>
<rect x="585.47" y="265.75" width="4.8" height="4.7" fill="#000" stroke="none"/>
<rect x="592.04" y="272.15" width="4.8" height="4.7" fill="#000" stroke="none"/>
<rect x="598.62" y="261.15" width="4.8" height="4.7" fill="#000" stroke="none"/>
<rect x="605.19" y="269.25" width="4.8" height="4.7" fill="#000" stroke="none"/>
<path d="M390.65 352.6 L393.6 358 L387.7 358 Z" fill="#fff" stroke-width="1.2"/>
<path d="M397.22 296 L400.17 301.4 L394.27 301.4 Z" fill="#fff" stroke-width="1.2"/>
<path d="M403.8 325.5 L406.75 330.9 L400.85 330.9 Z" fill="#fff" stroke-width="1.2"/>
<path d="M410.37 349.2 L413.32 354.6 L407.42 354.6 Z" fill="#fff" stroke-width="1.2"/>
<path d="M416.94 325.5 L419.89 330.9 L413.99 330.9 Z" fill="#fff" stroke-width="1.2"/>
<path d="M423.52 326.7 L426.47 332.1 L420.57 332.1 Z" fill="#fff" stroke-width="1.2"/>
<path d="M430.09 333.5 L433.04 338.9 L427.14 338.9 Z" fill="#fff" stroke-width="1.2"/>
<path d="M436.67 320.2 L439.62 325.6 L433.72 325.6 Z" fill="#fff" stroke-width="1.2"/>
<path d="M443.24 345.6 L446.19 351 L440.29 351 Z" fill="#fff" stroke-width="1.2"/>
<path d="M449.81 344.4 L452.76 349.8 L446.86 349.8 Z" fill="#fff" stroke-width="1.2"/>
<path d="M456.39 319.4 L459.34 324.8 L453.44 324.8 Z" fill="#fff" stroke-width="1.2"/>
<path d="M462.96 359.5 L465.91 364.9 L460.01 364.9 Z" fill="#fff" stroke-width="1.2"/>
<path d="M469.54 383.5 L472.49 388.9 L466.59 388.9 Z" fill="#fff" stroke-width="1.2"/>
<path d="M476.11 320.5 L479.06 325.9 L473.16 325.9 Z" fill="#fff" stroke-width="1.2"/>
<path d="M482.68 334.8 L485.63 340.2 L479.73 340.2 Z" fill="#fff" stroke-width="1.2"/>
<path d="M489.26 336.3 L492.21 341.7 L486.31 341.7 Z" fill="#fff" stroke-width="1.2"/>
<path d="M495.83 306.4 L498.78 311.8 L492.88 311.8 Z" fill="#fff" stroke-width="1.2"/>
<path d="M502.41 293.1 L505.36 298.5 L499.46 298.5 Z" fill="#fff" stroke-width="1.2"/>
<path d="M508.98 294.6 L511.93 300 L506.03 300 Z" fill="#fff" stroke-width="1.2"/>
<path d="M515.55 294.6 L518.5 300 L512.6 300 Z" fill="#fff" stroke-width="1.2"/>
<path d="M522.13 275.8 L525.08 281.2 L519.18 281.2 Z" fill="#fff" stroke-width="1.2"/>
<path d="M528.7 274 L531.65 279.4 L525.75 279.4 Z" fill="#fff" stroke-width="1.2"/>
<path d="M535.28 264.1 L538.23 269.5 L532.33 269.5 Z" fill="#fff" stroke-width="1.2"/>
<path d="M541.85 276.6 L544.8 282 L538.9 282 Z" fill="#fff" stroke-width="1.2"/>
<path d="M548.42 303 L551.37 308.4 L545.47 308.4 Z" fill="#fff" stroke-width="1.2"/>
<path d="M555 286.6 L557.95 292 L552.05 292 Z" fill="#fff" stroke-width="1.2"/>
<path d="M561.57 269.5 L564.52 274.9 L558.62 274.9 Z" fill="#fff" stroke-width="1.2"/>
<path d="M568.15 277.6 L571.1 283 L565.2 283 Z" fill="#fff" stroke-width="1.2"/>
<path d="M574.72 266.6 L577.67 272 L571.77 272 Z" fill="#fff" stroke-width="1.2"/>
<path d="M581.29 288.1 L584.24 293.5 L578.34 293.5 Z" fill="#fff" stroke-width="1.2"/>
<path d="M587.87 260.3 L590.82 265.7 L584.92 265.7 Z" fill="#fff" stroke-width="1.2"/>
<path d="M594.44 255.5 L597.39 260.9 L591.49 260.9 Z" fill="#fff" stroke-width="1.2"/>
<path d="M601.02 245.8 L603.97 251.2 L598.07 251.2 Z" fill="#fff" stroke-width="1.2"/>
<path d="M607.59 230.3 L610.54 235.7 L604.64 235.7 Z" fill="#fff" stroke-width="1.2"/>
</g>
<path transform="translate(20.68,367.00) scale(0.00576,-0.00679)" d="M515 0L515 1237L197 1010L197 1180L530 1409L696 1409L696 0Z" fill="#383838"/>
<g transform="translate(10.9,297.76) rotate(-90)"><path transform="translate(53.49,0.00) scale(0.00601,-0.00635)" d="M515 0L515 1237L197 1010L197 1180L530 1409L696 1409L696 0Z" fill="#383838"/></g>
<g transform="translate(351.6,283.68) rotate(-90)"><path transform="translate(50.37,0.00) scale(0.00599,-0.00625)" d="M515 0L515 1237L197 1010L197 1180L530 1409L696 1409L696 0Z" fill="#383838"/></g>
<path transform="translate(351.14,38.00) scale(0.00557,-0.00684)" d="M515 0L515 1237L197 1010L197 1180L530 1409L696 1409L696 0Z" fill="#383838"/>
<path transform="translate(356.83,245.00) scale(0.00592,-0.00684)" d="M515 0L515 1237L197 1010L197 1180L530 1409L696 1409L696 0Z" fill="#383838"/>
<path transform="translate(363.53,451.00) scale(0.00330,-0.00664)" d="M515 0L515 1237L197 1010L197 1180L530 1409L696 1409L696 0Z" fill="#383838"/>
<path transform="translate(364.61,469.00) scale(0.00552,-0.00693)" d="M515 0L515 1237L197 1010L197 1180L530 1409L696 1409L696 0Z" fill="#383838"/>
<path transform="translate(397.74,469.00) scale(0.00553,-0.00693)" d="M515 0L515 1237L197 1010L197 1180L530 1409L696 1409L696 0Z" fill="#383838"/>
<path transform="translate(430.62,469.00) scale(0.00550,-0.00693)" d="M515 0L515 1237L197 1010L197 1180L530 1409L696 1409L696 0Z" fill="#383838"/>
<path transform="translate(463.48,469.00) scale(0.00550,-0.00693)" d="M515 0L515 1237L197 1010L197 1180L530 1409L696 1409L696 0Z" fill="#383838"/>
<path transform="translate(496.34,469.00) scale(0.00547,-0.00693)" d="M515 0L515 1237L197 1010L197 1180L530 1409L696 1409L696 0Z" fill="#383838"/>
<path transform="translate(529.09,469.00) scale(0.00549,-0.00693)" d="M515 0L515 1237L197 1010L197 1180L530 1409L696 1409L696 0Z" fill="#383838"/>
<g transform="translate(71.22,458.75) rotate(-45)"><path transform="translate(-23.50,0.00) scale(0.00516,-0.00635)" d="M515 0L515 1237L197 1010L197 1180L530 1409L696 1409L696 0Z" fill="#383838"/></g>
<g transform="translate(96.28,458.75) rotate(-45)"><path transform="translate(-23.50,0.00) scale(0.00516,-0.00635)" d="M515 0L515 1237L197 1010L197 1180L530 1409L696 1409L696 0Z" fill="#383838"/></g>
<g transform="translate(96.28,458.75) rotate(-45)"><path transform="translate(-5.88,0.00) scale(0.00516,-0.00635)" d="M515 0L515 1237L197 1010L197 1180L530 1409L696 1409L696 0Z" fill="#383838"/></g>
<g transform="translate(121.34,458.75) rotate(-45)"><path transform="translate(-23.50,0.00) scale(0.00516,-0.00635)" d="M515 0L515 1237L197 1010L197 1180L530 1409L696 1409L696 0Z" fill="#383838"/></g>
<g transform="translate(146.4,458.75) rotate(-45)"><path transform="translate(-23.50,0.00) scale(0.00516,-0.00635)" d="M515 0L515 1237L197 1010L197 1180L530 1409L696 1409L696 0Z" fill="#383838"/></g>
<g transform="translate(171.46,458.75) rotate(-45)"><path transform="translate(-23.50,0.00) scale(0.00516,-0.00635)" d="M515 0L515 1237L197 1010L197 1180L530 1409L696 1409L696 0Z" fill="#383838"/></g>
<g transform="translate(196.52,458.75) rotate(-45)"><path transform="translate(-23.50,0.00) scale(0.00516,-0.00635)" d="M515 0L515 1237L197 1010L197 1180L530 1409L696 1409L696 0Z" fill="#383838"/></g>
<g transform="translate(221.58,458.75) rotate(-45)"><path transform="translate(-5.88,0.00) scale(0.00516,-0.00635)" d="M515 0L515 1237L197 1010L197 1180L530 1409L696 1409L696 0Z" fill="#383838"/></g>
</svg></body></html>
